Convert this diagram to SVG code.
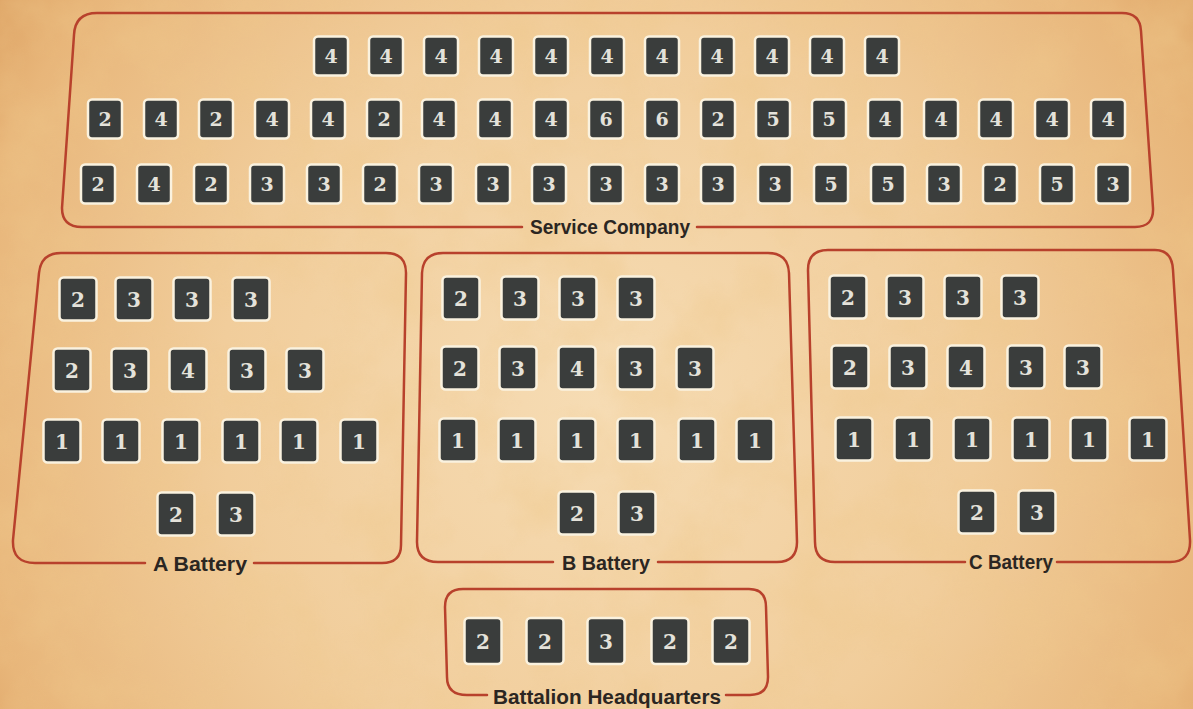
<svg xmlns="http://www.w3.org/2000/svg" width="1193" height="709" viewBox="0 0 1193 709">
<defs>
<radialGradient id="bg" cx="600" cy="400" r="760" gradientUnits="userSpaceOnUse">
<stop offset="0" stop-color="#f6dcb4"/>
<stop offset="0.5" stop-color="#f1cd9b"/>
<stop offset="0.85" stop-color="#e8b67a"/>
<stop offset="1" stop-color="#d99b5b"/>
</radialGradient>
<filter id="paper" x="0" y="0" width="100%" height="100%">
<feTurbulence type="fractalNoise" baseFrequency="0.014" numOctaves="4" seed="7"/>
<feColorMatrix type="matrix" values="0 0 0 0 0.86  0 0 0 0 0.58  0 0 0 0 0.26  1.6 0 0 0 -0.62"/>
</filter>
<style>
.box{fill:none;stroke:#b8412c;stroke-width:2.5;stroke-linecap:round;stroke-linejoin:round}
.lbl{font-family:"Liberation Sans Narrow","Liberation Sans",Arial,sans-serif;font-weight:bold;font-size:20px;fill:#2b2622;text-anchor:middle}
.s rect{fill:#3a3d3c;stroke:#faf2df;stroke-width:2.5}
.s text{font-family:"DejaVu Serif","Liberation Serif",serif;font-weight:bold;font-size:19px;fill:#e4e2da;text-anchor:middle}
.b rect{fill:#3a3d3c;stroke:#faf2df;stroke-width:2.5}
.b text{font-family:"DejaVu Serif","Liberation Serif",serif;font-weight:bold;font-size:20px;fill:#e4e2da;text-anchor:middle}
</style>
</defs>
<rect width="1193" height="709" fill="url(#bg)"/>
<rect width="1193" height="709" filter="url(#paper)" opacity="0.55"/>

<g id="connectors"/>

<g id="service-company">
<path class="box" d="M 522,227 L 82,227 Q 62,227 62,208 L 74,35 Q 75,13 97,13 L 1122,13 Q 1140,13 1141,31 L 1153,208 Q 1154,227 1135,227 L 697,227"/>
<text class="lbl" x="610" y="234" textLength="160" lengthAdjust="spacingAndGlyphs">Service Company</text>
<g class="s">
<g transform="translate(331,56)"><rect x="-17" y="-19.5" width="34" height="39" rx="4"/><text y="7">4</text></g>
<g transform="translate(386,56)"><rect x="-17" y="-19.5" width="34" height="39" rx="4"/><text y="7">4</text></g>
<g transform="translate(441,56)"><rect x="-17" y="-19.5" width="34" height="39" rx="4"/><text y="7">4</text></g>
<g transform="translate(496,56)"><rect x="-17" y="-19.5" width="34" height="39" rx="4"/><text y="7">4</text></g>
<g transform="translate(551,56)"><rect x="-17" y="-19.5" width="34" height="39" rx="4"/><text y="7">4</text></g>
<g transform="translate(607,56)"><rect x="-17" y="-19.5" width="34" height="39" rx="4"/><text y="7">4</text></g>
<g transform="translate(662,56)"><rect x="-17" y="-19.5" width="34" height="39" rx="4"/><text y="7">4</text></g>
<g transform="translate(717,56)"><rect x="-17" y="-19.5" width="34" height="39" rx="4"/><text y="7">4</text></g>
<g transform="translate(772,56)"><rect x="-17" y="-19.5" width="34" height="39" rx="4"/><text y="7">4</text></g>
<g transform="translate(827,56)"><rect x="-17" y="-19.5" width="34" height="39" rx="4"/><text y="7">4</text></g>
<g transform="translate(882,56)"><rect x="-17" y="-19.5" width="34" height="39" rx="4"/><text y="7">4</text></g>

<g transform="translate(105,119)"><rect x="-17" y="-19.5" width="34" height="39" rx="4"/><text y="7">2</text></g>
<g transform="translate(161,119)"><rect x="-17" y="-19.5" width="34" height="39" rx="4"/><text y="7">4</text></g>
<g transform="translate(216,119)"><rect x="-17" y="-19.5" width="34" height="39" rx="4"/><text y="7">2</text></g>
<g transform="translate(272,119)"><rect x="-17" y="-19.5" width="34" height="39" rx="4"/><text y="7">4</text></g>
<g transform="translate(328,119)"><rect x="-17" y="-19.5" width="34" height="39" rx="4"/><text y="7">4</text></g>
<g transform="translate(384,119)"><rect x="-17" y="-19.5" width="34" height="39" rx="4"/><text y="7">2</text></g>
<g transform="translate(439,119)"><rect x="-17" y="-19.5" width="34" height="39" rx="4"/><text y="7">4</text></g>
<g transform="translate(495,119)"><rect x="-17" y="-19.5" width="34" height="39" rx="4"/><text y="7">4</text></g>
<g transform="translate(551,119)"><rect x="-17" y="-19.5" width="34" height="39" rx="4"/><text y="7">4</text></g>
<g transform="translate(606,119)"><rect x="-17" y="-19.5" width="34" height="39" rx="4"/><text y="7">6</text></g>
<g transform="translate(662,119)"><rect x="-17" y="-19.5" width="34" height="39" rx="4"/><text y="7">6</text></g>
<g transform="translate(718,119)"><rect x="-17" y="-19.5" width="34" height="39" rx="4"/><text y="7">2</text></g>
<g transform="translate(773,119)"><rect x="-17" y="-19.5" width="34" height="39" rx="4"/><text y="7">5</text></g>
<g transform="translate(829,119)"><rect x="-17" y="-19.5" width="34" height="39" rx="4"/><text y="7">5</text></g>
<g transform="translate(885,119)"><rect x="-17" y="-19.5" width="34" height="39" rx="4"/><text y="7">4</text></g>
<g transform="translate(941,119)"><rect x="-17" y="-19.5" width="34" height="39" rx="4"/><text y="7">4</text></g>
<g transform="translate(996,119)"><rect x="-17" y="-19.5" width="34" height="39" rx="4"/><text y="7">4</text></g>
<g transform="translate(1052,119)"><rect x="-17" y="-19.5" width="34" height="39" rx="4"/><text y="7">4</text></g>
<g transform="translate(1108,119)"><rect x="-17" y="-19.5" width="34" height="39" rx="4"/><text y="7">4</text></g>

<g transform="translate(98,184)"><rect x="-17" y="-19.5" width="34" height="39" rx="4"/><text y="7">2</text></g>
<g transform="translate(154,184)"><rect x="-17" y="-19.5" width="34" height="39" rx="4"/><text y="7">4</text></g>
<g transform="translate(211,184)"><rect x="-17" y="-19.5" width="34" height="39" rx="4"/><text y="7">2</text></g>
<g transform="translate(267,184)"><rect x="-17" y="-19.5" width="34" height="39" rx="4"/><text y="7">3</text></g>
<g transform="translate(324,184)"><rect x="-17" y="-19.5" width="34" height="39" rx="4"/><text y="7">3</text></g>
<g transform="translate(380,184)"><rect x="-17" y="-19.5" width="34" height="39" rx="4"/><text y="7">2</text></g>
<g transform="translate(436,184)"><rect x="-17" y="-19.5" width="34" height="39" rx="4"/><text y="7">3</text></g>
<g transform="translate(493,184)"><rect x="-17" y="-19.5" width="34" height="39" rx="4"/><text y="7">3</text></g>
<g transform="translate(549,184)"><rect x="-17" y="-19.5" width="34" height="39" rx="4"/><text y="7">3</text></g>
<g transform="translate(606,184)"><rect x="-17" y="-19.5" width="34" height="39" rx="4"/><text y="7">3</text></g>
<g transform="translate(662,184)"><rect x="-17" y="-19.5" width="34" height="39" rx="4"/><text y="7">3</text></g>
<g transform="translate(718,184)"><rect x="-17" y="-19.5" width="34" height="39" rx="4"/><text y="7">3</text></g>
<g transform="translate(775,184)"><rect x="-17" y="-19.5" width="34" height="39" rx="4"/><text y="7">3</text></g>
<g transform="translate(831,184)"><rect x="-17" y="-19.5" width="34" height="39" rx="4"/><text y="7">5</text></g>
<g transform="translate(888,184)"><rect x="-17" y="-19.5" width="34" height="39" rx="4"/><text y="7">5</text></g>
<g transform="translate(944,184)"><rect x="-17" y="-19.5" width="34" height="39" rx="4"/><text y="7">3</text></g>
<g transform="translate(1000,184)"><rect x="-17" y="-19.5" width="34" height="39" rx="4"/><text y="7">2</text></g>
<g transform="translate(1057,184)"><rect x="-17" y="-19.5" width="34" height="39" rx="4"/><text y="7">5</text></g>
<g transform="translate(1113,184)"><rect x="-17" y="-19.5" width="34" height="39" rx="4"/><text y="7">3</text></g>
</g>
</g>

<g id="a-battery">
<path class="box" d="M 145,563 L 35,563 Q 12,563 13,540 L 39,273 Q 41,253 61,253 L 386,253 Q 406,253 406,273 L 401,545 Q 401,563 382,563 L 254,563"/>
<text class="lbl" x="200" y="571" textLength="94" lengthAdjust="spacingAndGlyphs">A Battery</text>
<g class="b">
<g transform="translate(78,299)"><rect x="-18.5" y="-21.5" width="37" height="43" rx="4"/><text y="7.5">2</text></g>
<g transform="translate(134,299)"><rect x="-18.5" y="-21.5" width="37" height="43" rx="4"/><text y="7.5">3</text></g>
<g transform="translate(192,299)"><rect x="-18.5" y="-21.5" width="37" height="43" rx="4"/><text y="7.5">3</text></g>
<g transform="translate(251,299)"><rect x="-18.5" y="-21.5" width="37" height="43" rx="4"/><text y="7.5">3</text></g>
<g transform="translate(72,370)"><rect x="-18.5" y="-21.5" width="37" height="43" rx="4"/><text y="7.5">2</text></g>
<g transform="translate(130,370)"><rect x="-18.5" y="-21.5" width="37" height="43" rx="4"/><text y="7.5">3</text></g>
<g transform="translate(188,370)"><rect x="-18.5" y="-21.5" width="37" height="43" rx="4"/><text y="7.5">4</text></g>
<g transform="translate(247,370)"><rect x="-18.5" y="-21.5" width="37" height="43" rx="4"/><text y="7.5">3</text></g>
<g transform="translate(305,370)"><rect x="-18.5" y="-21.5" width="37" height="43" rx="4"/><text y="7.5">3</text></g>
<g transform="translate(62,441)"><rect x="-18.5" y="-21.5" width="37" height="43" rx="4"/><text y="7.5">1</text></g>
<g transform="translate(121,441)"><rect x="-18.5" y="-21.5" width="37" height="43" rx="4"/><text y="7.5">1</text></g>
<g transform="translate(181,441)"><rect x="-18.5" y="-21.5" width="37" height="43" rx="4"/><text y="7.5">1</text></g>
<g transform="translate(241,441)"><rect x="-18.5" y="-21.5" width="37" height="43" rx="4"/><text y="7.5">1</text></g>
<g transform="translate(299,441)"><rect x="-18.5" y="-21.5" width="37" height="43" rx="4"/><text y="7.5">1</text></g>
<g transform="translate(359,441)"><rect x="-18.5" y="-21.5" width="37" height="43" rx="4"/><text y="7.5">1</text></g>
<g transform="translate(176,514)"><rect x="-18.5" y="-21.5" width="37" height="43" rx="4"/><text y="7.5">2</text></g>
<g transform="translate(236,514)"><rect x="-18.5" y="-21.5" width="37" height="43" rx="4"/><text y="7.5">3</text></g>
</g>
</g>

<g id="b-battery">
<path class="box" d="M 553,562 L 438,562 Q 417,562 417,542 L 422,273 Q 423,253 443,253 L 768,253 Q 788,253 789,273 L 797,542 Q 797,562 777,562 L 658,562"/>
<text class="lbl" x="606" y="570" textLength="88" lengthAdjust="spacingAndGlyphs">B Battery</text>
<g class="b">
<g transform="translate(461,298)"><rect x="-18.5" y="-21.5" width="37" height="43" rx="4"/><text y="7.5">2</text></g>
<g transform="translate(520,298)"><rect x="-18.5" y="-21.5" width="37" height="43" rx="4"/><text y="7.5">3</text></g>
<g transform="translate(578,298)"><rect x="-18.5" y="-21.5" width="37" height="43" rx="4"/><text y="7.5">3</text></g>
<g transform="translate(636,298)"><rect x="-18.5" y="-21.5" width="37" height="43" rx="4"/><text y="7.5">3</text></g>
<g transform="translate(460,368)"><rect x="-18.5" y="-21.5" width="37" height="43" rx="4"/><text y="7.5">2</text></g>
<g transform="translate(518,368)"><rect x="-18.5" y="-21.5" width="37" height="43" rx="4"/><text y="7.5">3</text></g>
<g transform="translate(577,368)"><rect x="-18.5" y="-21.5" width="37" height="43" rx="4"/><text y="7.5">4</text></g>
<g transform="translate(636,368)"><rect x="-18.5" y="-21.5" width="37" height="43" rx="4"/><text y="7.5">3</text></g>
<g transform="translate(695,368)"><rect x="-18.5" y="-21.5" width="37" height="43" rx="4"/><text y="7.5">3</text></g>
<g transform="translate(458,440)"><rect x="-18.5" y="-21.5" width="37" height="43" rx="4"/><text y="7.5">1</text></g>
<g transform="translate(517,440)"><rect x="-18.5" y="-21.5" width="37" height="43" rx="4"/><text y="7.5">1</text></g>
<g transform="translate(577,440)"><rect x="-18.5" y="-21.5" width="37" height="43" rx="4"/><text y="7.5">1</text></g>
<g transform="translate(636,440)"><rect x="-18.5" y="-21.5" width="37" height="43" rx="4"/><text y="7.5">1</text></g>
<g transform="translate(697,440)"><rect x="-18.5" y="-21.5" width="37" height="43" rx="4"/><text y="7.5">1</text></g>
<g transform="translate(755,440)"><rect x="-18.5" y="-21.5" width="37" height="43" rx="4"/><text y="7.5">1</text></g>
<g transform="translate(577,513)"><rect x="-18.5" y="-21.5" width="37" height="43" rx="4"/><text y="7.5">2</text></g>
<g transform="translate(637,513)"><rect x="-18.5" y="-21.5" width="37" height="43" rx="4"/><text y="7.5">3</text></g>
</g>
</g>

<g id="c-battery">
<path class="box" d="M 965,562 L 835,562 Q 815,562 815,542 L 808,270 Q 808,250 828,250 L 1155,250 Q 1172,250 1173,270 L 1190,540 Q 1191,562 1170,562 L 1057,562"/>
<text class="lbl" x="1011" y="569" textLength="84" lengthAdjust="spacingAndGlyphs">C Battery</text>
<g class="b">
<g transform="translate(848,297)"><rect x="-18.5" y="-21.5" width="37" height="43" rx="4"/><text y="7.5">2</text></g>
<g transform="translate(905,297)"><rect x="-18.5" y="-21.5" width="37" height="43" rx="4"/><text y="7.5">3</text></g>
<g transform="translate(963,297)"><rect x="-18.5" y="-21.5" width="37" height="43" rx="4"/><text y="7.5">3</text></g>
<g transform="translate(1020,297)"><rect x="-18.5" y="-21.5" width="37" height="43" rx="4"/><text y="7.5">3</text></g>
<g transform="translate(850,367)"><rect x="-18.5" y="-21.5" width="37" height="43" rx="4"/><text y="7.5">2</text></g>
<g transform="translate(908,367)"><rect x="-18.5" y="-21.5" width="37" height="43" rx="4"/><text y="7.5">3</text></g>
<g transform="translate(966,367)"><rect x="-18.5" y="-21.5" width="37" height="43" rx="4"/><text y="7.5">4</text></g>
<g transform="translate(1026,367)"><rect x="-18.5" y="-21.5" width="37" height="43" rx="4"/><text y="7.5">3</text></g>
<g transform="translate(1083,367)"><rect x="-18.5" y="-21.5" width="37" height="43" rx="4"/><text y="7.5">3</text></g>
<g transform="translate(854,439)"><rect x="-18.5" y="-21.5" width="37" height="43" rx="4"/><text y="7.5">1</text></g>
<g transform="translate(913,439)"><rect x="-18.5" y="-21.5" width="37" height="43" rx="4"/><text y="7.5">1</text></g>
<g transform="translate(972,439)"><rect x="-18.5" y="-21.5" width="37" height="43" rx="4"/><text y="7.5">1</text></g>
<g transform="translate(1031,439)"><rect x="-18.5" y="-21.5" width="37" height="43" rx="4"/><text y="7.5">1</text></g>
<g transform="translate(1089,439)"><rect x="-18.5" y="-21.5" width="37" height="43" rx="4"/><text y="7.5">1</text></g>
<g transform="translate(1148,439)"><rect x="-18.5" y="-21.5" width="37" height="43" rx="4"/><text y="7.5">1</text></g>
<g transform="translate(977,512)"><rect x="-18.5" y="-21.5" width="37" height="43" rx="4"/><text y="7.5">2</text></g>
<g transform="translate(1037,512)"><rect x="-18.5" y="-21.5" width="37" height="43" rx="4"/><text y="7.5">3</text></g>
</g>
</g>

<g id="battalion-headquarters">
<path class="box" d="M 487,695 L 467,695 Q 447,695 447,677 L 445,607 Q 445,589 463,589 L 749,589 Q 766,589 766,607 L 768,677 Q 768,695 750,695 L 726,695"/>
<text class="lbl" x="607" y="704" textLength="228" lengthAdjust="spacingAndGlyphs">Battalion Headquarters</text>
<g class="b">
<g transform="translate(483,641)"><rect x="-18.5" y="-23" width="37" height="46" rx="4"/><text y="7.5">2</text></g>
<g transform="translate(545,641)"><rect x="-18.5" y="-23" width="37" height="46" rx="4"/><text y="7.5">2</text></g>
<g transform="translate(606,641)"><rect x="-18.5" y="-23" width="37" height="46" rx="4"/><text y="7.5">3</text></g>
<g transform="translate(670,641)"><rect x="-18.5" y="-23" width="37" height="46" rx="4"/><text y="7.5">2</text></g>
<g transform="translate(731,641)"><rect x="-18.5" y="-23" width="37" height="46" rx="4"/><text y="7.5">2</text></g>
</g>
</g>
</svg>
